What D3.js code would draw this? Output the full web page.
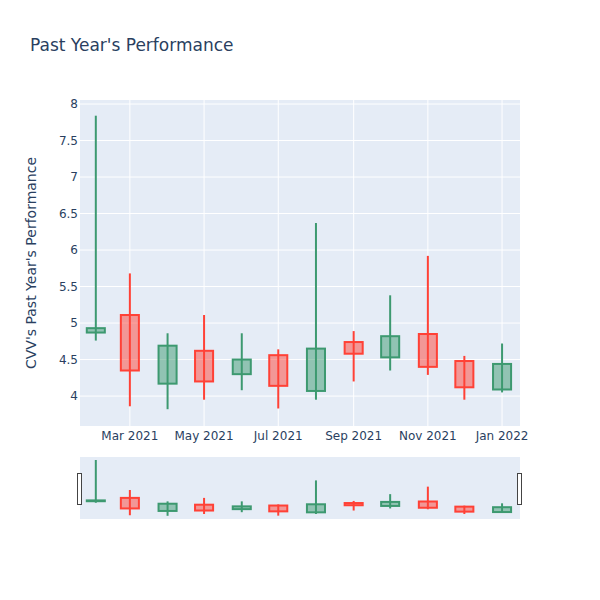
<html>
<head>
<meta charset="UTF-8">
<title>Past Year's Performance</title>
<script src="https://d3js.org/d3.v7.min.js"></script>
<style>
  body { margin: 0; background: #fff; }
  svg { display: block; font-family: "DejaVu Sans", verdana, arial, sans-serif; }
</style>
</head>
<body>
<script type="text/javascript">
// monthly candles, first of each month
var months = ["2021-02-01","2021-03-01","2021-04-01","2021-05-01","2021-06-01","2021-07-01",
              "2021-08-01","2021-09-01","2021-10-01","2021-11-01","2021-12-01","2022-01-01"];
var opens  = [4.87, 5.11, 4.17, 4.62, 4.30, 4.56, 4.07, 4.74, 4.53, 4.85, 4.48, 4.09];
var highs  = [7.84, 5.68, 4.86, 5.11, 4.86, 4.64, 6.37, 4.89, 5.38, 5.92, 4.55, 4.72];
var lows   = [4.76, 3.86, 3.82, 3.95, 4.08, 3.83, 3.95, 4.20, 4.35, 4.29, 3.95, 4.05];
var closes = [4.93, 4.35, 4.69, 4.20, 4.50, 4.14, 4.65, 4.58, 4.82, 4.40, 4.12, 4.44];

var xTicks = ["2021-03-01","2021-05-01","2021-07-01","2021-09-01","2021-11-01","2022-01-01"];
var yTicks = [4, 4.5, 5, 5.5, 6, 6.5, 7, 7.5, 8];

var width = 600, height = 600;
var plotLeft = 80, plotRight = 520;
var plotTop = 100, plotBottom = 426;
var sTop = 457, sBottom = 519;
var upColor = "#3D9970", downColor = "#FF4136";
var textColor = "#2a3f5f";

var parse = d3.timeParse("%Y-%m-%d");
var data = months.map(function(m, i){
  return {date: parse(m), open: opens[i], high: highs[i], low: lows[i], close: closes[i]};
});

var x = d3.scaleTime()
  .domain([new Date(2021, 0, 19), new Date(2022, 0, 15, 18)])
  .range([plotLeft, plotRight]);
var y = d3.scaleLinear().domain([3.59, 8.055]).range([plotBottom, plotTop]);
var ys = d3.scaleLinear().domain([3.59, 8.055]).range([sBottom, sTop]);

var halfBox = function(d){
  return (x(d3.timeDay.offset(d.date, 7)) - x(d.date)) * 1.06;
};

var svg = d3.select("body").append("svg")
  .attr("width", width).attr("height", height);

// title
svg.append("text")
  .attr("x", 30).attr("y", 51)
  .attr("fill", textColor)
  .style("font-size", "17px")
  .text("Past Year's Performance");

// plot background
svg.append("rect")
  .attr("x", plotLeft).attr("y", plotTop)
  .attr("width", plotRight - plotLeft).attr("height", plotBottom - plotTop)
  .attr("fill", "#E5ECF6");

// grid
svg.append("g").selectAll("line")
  .data(yTicks).enter().append("line")
  .attr("x1", plotLeft).attr("x2", plotRight)
  .attr("y1", function(d){ return y(d); })
  .attr("y2", function(d){ return y(d); })
  .attr("stroke", "#fff").attr("stroke-width", 1);

svg.append("g").selectAll("line")
  .data(xTicks).enter().append("line")
  .attr("x1", function(d){ return x(parse(d)); })
  .attr("x2", function(d){ return x(parse(d)); })
  .attr("y1", plotTop).attr("y2", plotBottom)
  .attr("stroke", "#fff").attr("stroke-width", 1);

// tick labels
svg.append("g").selectAll("text")
  .data(yTicks).enter().append("text")
  .attr("x", 78)
  .attr("y", function(d){ return y(d) + 4; })
  .attr("text-anchor", "end")
  .attr("fill", textColor)
  .style("font-size", "12px")
  .text(function(d){ return d; });

svg.append("g").selectAll("text")
  .data(xTicks).enter().append("text")
  .attr("x", function(d){ return x(parse(d)); })
  .attr("y", 440)
  .attr("text-anchor", "middle")
  .attr("fill", textColor)
  .style("font-size", "12px")
  .text(function(d){ return d3.timeFormat("%b %Y")(parse(d)); });

// y axis title
svg.append("text")
  .attr("transform", "translate(36," + ((plotTop + plotBottom) / 2) + ") rotate(-90)")
  .attr("text-anchor", "middle")
  .attr("fill", textColor)
  .style("font-size", "14px")
  .text("CVV's Past Year's Performance");

var drawCandles = function(g, yScale){
  var c = g.selectAll("g.candle")
    .data(data).enter().append("g")
    .attr("class", "candle");

  c.append("line")
    .attr("x1", function(d){ return x(d.date); })
    .attr("x2", function(d){ return x(d.date); })
    .attr("y1", function(d){ return yScale(d.high); })
    .attr("y2", function(d){ return yScale(d.low); })
    .attr("stroke", function(d){ return d.close >= d.open ? upColor : downColor; })
    .attr("stroke-width", 2);

  c.append("rect")
    .attr("x", function(d){ return x(d.date) - halfBox(d); })
    .attr("width", function(d){ return halfBox(d) * 2; })
    .attr("y", function(d){ return yScale(Math.max(d.open, d.close)); })
    .attr("height", function(d){ return Math.abs(yScale(d.open) - yScale(d.close)); })
    .attr("fill", function(d){ return d.close >= d.open ? upColor : downColor; })
    .attr("fill-opacity", 0.5)
    .attr("stroke", function(d){ return d.close >= d.open ? upColor : downColor; })
    .attr("stroke-width", 2);
};

drawCandles(svg.append("g"), y);

// range slider
svg.append("rect")
  .attr("x", plotLeft).attr("y", sTop)
  .attr("width", plotRight - plotLeft).attr("height", sBottom - sTop)
  .attr("fill", "#E5ECF6");

drawCandles(svg.append("g"), ys);

[plotLeft, plotRight].forEach(function(px){
  svg.append("rect")
    .attr("x", px - 2.5).attr("y", 473.5)
    .attr("width", 4).attr("height", 31)
    .attr("fill", "#fff")
    .attr("stroke", "#444").attr("stroke-width", 1);
});
</script>
</body>
</html>
